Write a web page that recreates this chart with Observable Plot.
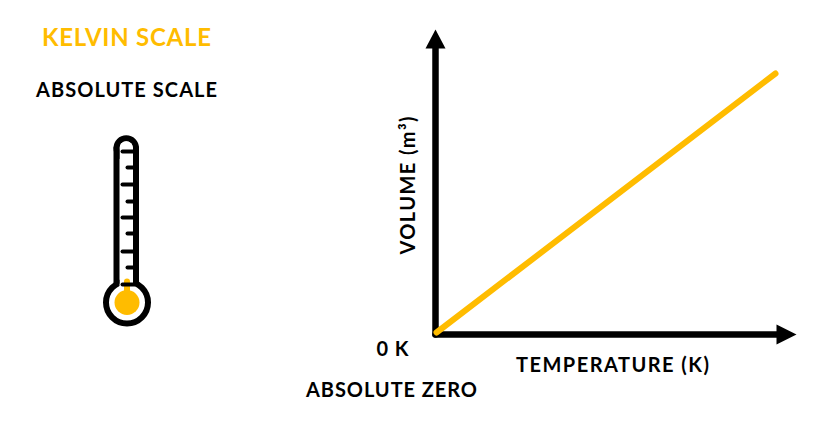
<!DOCTYPE html>
<html><head><meta charset="utf-8">
<script src="https://cdn.jsdelivr.net/npm/d3@7"></script>
<script src="https://cdn.jsdelivr.net/npm/@observablehq/plot@0.6"></script>
<style>html,body{margin:0;padding:0;background:#fff}svg{display:block}</style>
</head><body><div id="chart"></div>
<script>
const BLACK = "#000", AMBER = "#FFBC00";
const volumeLine = [[436,332],[775,73]];
const yAxisLine = [[435,334],[435,46]];
const xAxisLine = [[435,334],[778,334]];
const yHead = [[425,48],[435,29],[445,48]];
const xHead = [[776,324],[796,334],[776,344]];
const tubeLeft = [[116,282],[116,147.5]];
const tubeRight = [[135.5,147.5],[135.5,282]];
const tubeInner = [[125.75,147.5],[125.75,287]];
const cap = [{x:125.75,y:147.5}];
const tickY = [151,167,184,201,217,233,251,267,284];
const tickLeft = [122,127,122,127,122,127,122,127,122];
const ticks = tickY.map((y,i)=>({y,x1:tickLeft[i],x2:134}));
const bulb = [{x:126.5,y:302}];
const neck = [[126.5,281],[126.5,300]];
const labels = [
 {t:"KELVIN SCALE",x:126,y:38,s:24,c:AMBER,l:169},
 {t:"ABSOLUTE SCALE",x:126,y:90,s:20,c:BLACK,l:181},
 {t:"0 K",x:392,y:349,s:20,c:BLACK,l:32},
 {t:"TEMPERATURE (K)",x:612,y:365,s:20,c:BLACK,l:193},
 {t:"ABSOLUTE ZERO",x:391,y:390,s:20,c:BLACK,l:171}
];
const rotated = [{t:"VOLUME (m³)",x:408,y:185,s:20,c:BLACK,l:138}];
const FONT = "Lato, 'Noto Sans', sans-serif";
const poly = (d,o)=>Plot.line(d,{x:p=>p[0],y:p=>p[1],...o});
const textMark = (d,rot)=>Plot.text(d,{x:"x",y:"y",text:"t",fill:"c",fontSize:"s",fontWeight:700,fontFamily:FONT,textAnchor:"middle",lineAnchor:"middle",rotate:rot});
const svg = Plot.plot({
  width:833,height:425,margin:0,
  x:{domain:[0,833],range:[0,833],axis:null},
  y:{domain:[0,425],range:[0,425],axis:null},
  color:{type:"identity"},
  style:{background:"#fff"},
  marks:[
    poly(yAxisLine,{stroke:BLACK,strokeWidth:6.5,strokeLinecap:"round"}),
    poly(xAxisLine,{stroke:BLACK,strokeWidth:6.5,strokeLinecap:"round"}),
    poly(yHead,{fill:BLACK,stroke:"none"}),
    poly(xHead,{fill:BLACK,stroke:"none"}),
    poly(volumeLine,{stroke:AMBER,strokeWidth:6,strokeLinecap:"round"}),
    Plot.dot(bulb,{x:"x",y:"y",r:21,stroke:BLACK,strokeWidth:6,fill:"#fff"}),
    Plot.dot(cap,{x:"x",y:"y",r:9.75,stroke:BLACK,strokeWidth:6,fill:"#fff"}),
    poly(tubeInner,{stroke:"#fff",strokeWidth:13.5}),
    poly(tubeLeft,{stroke:BLACK,strokeWidth:6}),
    poly(tubeRight,{stroke:BLACK,strokeWidth:6}),
    poly(neck,{stroke:AMBER,strokeWidth:6,strokeLinecap:"round"}),
    Plot.dot(bulb,{x:"x",y:"y",r:12.5,fill:AMBER}),
    Plot.link(ticks,{x1:"x1",x2:"x2",y1:"y",y2:"y",stroke:BLACK,strokeWidth:4,strokeLinecap:"round"}),
    textMark(labels,0),
    textMark(rotated,-90)
  ]
});
document.getElementById("chart").append(svg);
// fit each label to its width in the reference
const lens=[...labels,...rotated].map(d=>d.l);
d3.select(svg).selectAll("text").each(function(_,i){ if(lens[i]) this.setAttribute("textLength",lens[i]); });
</script></body></html>
